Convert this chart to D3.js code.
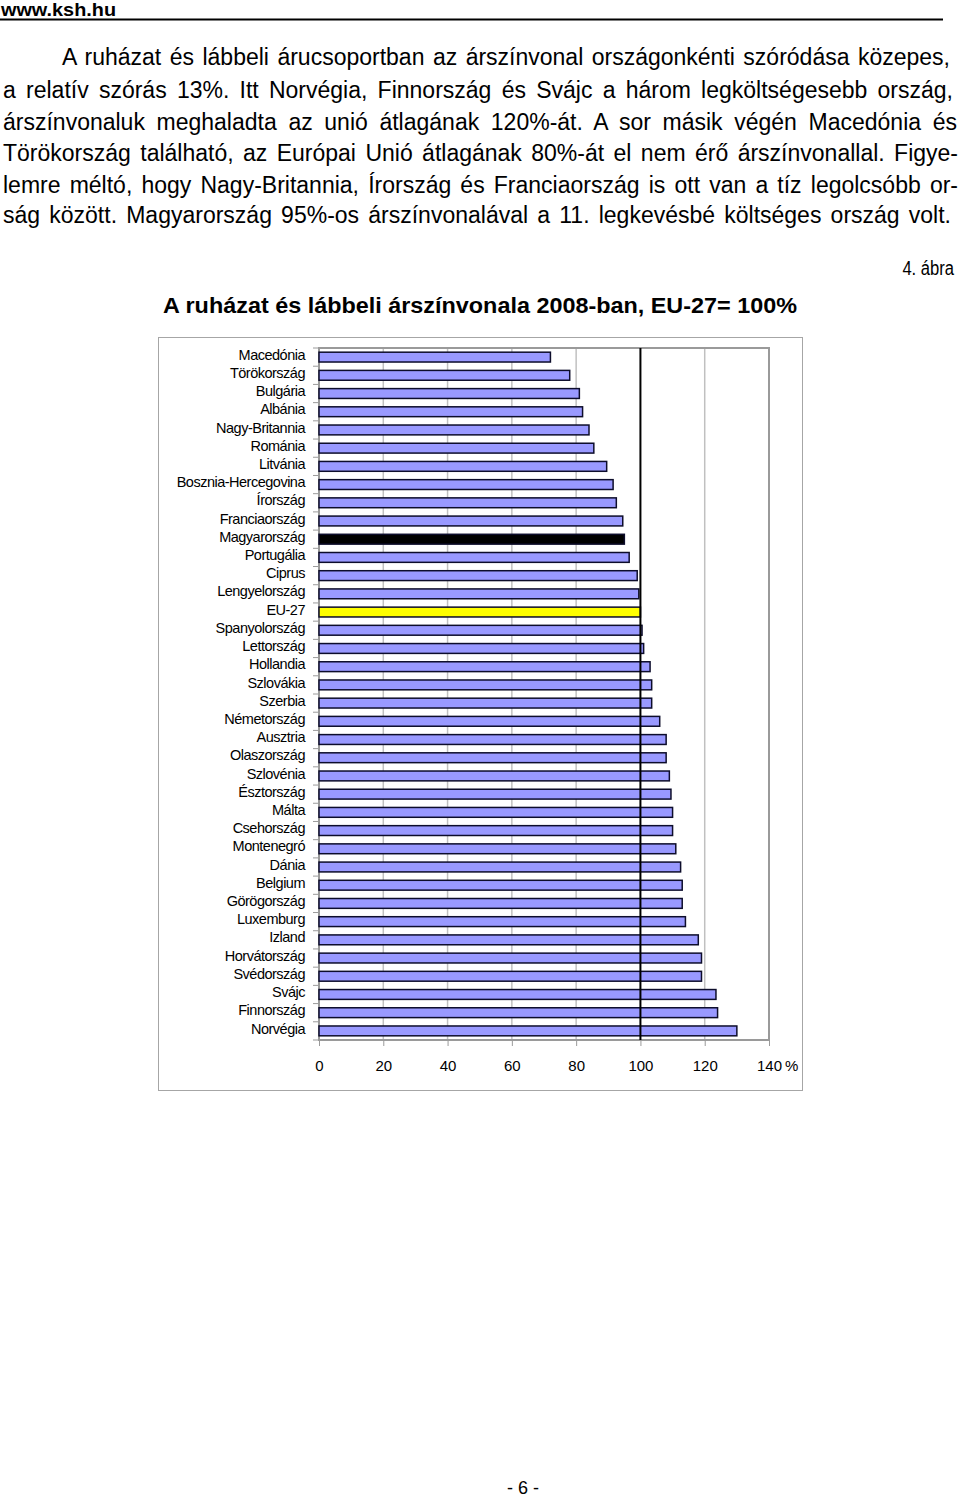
<!DOCTYPE html>
<html>
<head>
<meta charset="utf-8">
<script src="https://cdn.jsdelivr.net/npm/d3@7/dist/d3.min.js"></script>
<style>
  html, body { margin: 0; padding: 0; background: #fff; }
  svg { display: block; }
</style>
</head>
<body>
<script>
const categories = ["Macedónia","Törökország","Bulgária","Albánia","Nagy-Britannia","Románia","Litvánia","Bosznia-Hercegovina","Írország","Franciaország","Magyarország","Portugália","Ciprus","Lengyelország","EU-27","Spanyolország","Lettország","Hollandia","Szlovákia","Szerbia","Németország","Ausztria","Olaszország","Szlovénia","Észtország","Málta","Csehország","Montenegró","Dánia","Belgium","Görögország","Luxemburg","Izland","Horvátország","Svédország","Svájc","Finnország","Norvégia"];
const values = [72, 78, 81, 82, 84, 85.5, 89.5, 91.5, 92.5, 94.5, 95, 96.5, 99, 99.5, 100, 100.5, 101, 103, 103.5, 103.5, 106, 108, 108, 109, 109.5, 110, 110, 111, 112.5, 113, 113, 114, 118, 119, 119, 123.5, 124, 130];
const xTicks = [0, 20, 40, 60, 80, 100, 120, 140];
const paragraphLines = [
  "A ruházat és lábbeli árucsoportban az árszínvonal országonkénti szóródása közepes,",
  "a relatív szórás 13%. Itt Norvégia, Finnország és Svájc a három legköltségesebb ország,",
  "árszínvonaluk meghaladta az unió átlagának 120%-át. A sor másik végén Macedónia és",
  "Törökország található, az Európai Unió átlagának 80%-át el nem érő árszínvonallal. Figye-",
  "lemre méltó, hogy Nagy-Britannia, Írország és Franciaország is ott van a tíz legolcsóbb or-",
  "ság között. Magyarország 95%-os árszínvonalával a 11. legkevésbé költséges ország volt."
];
const siteText = "www.ksh.hu";
const figureLabel = "4. ábra";
const chartTitle = "A ruházat és lábbeli árszínvonala 2008-ban, EU-27= 100%";
const pageNumber = "- 6 -";

const W = 960, H = 1500;
const svg = d3.select("body").append("svg").attr("width", W).attr("height", H);
svg.append("rect").attr("width", W).attr("height", H).attr("fill", "#fff");

const FONT = "'Liberation Sans', Arial, sans-serif";
const NARROW = "'Liberation Sans Narrow', 'Liberation Sans', Arial, sans-serif";

// header
svg.append("text").attr("x", 1).attr("y", 16).attr("font-family", FONT).attr("font-weight", "bold")
  .attr("font-size", 18).attr("textLength", 115).attr("lengthAdjust", "spacingAndGlyphs")
  .attr("fill", "#000").text(siteText);
svg.append("line").attr("x1", 0).attr("x2", 943).attr("y1", 19.5).attr("y2", 19.5)
  .attr("stroke", "#000").attr("stroke-width", 2);

// paragraph: font size fitted so last line is natural width, other lines justified by word spacing
const pStarts = [62, 3, 3, 3, 3, 3];
const pEnds = [950, 953, 957, 958, 958, 951];
const pBase = [65, 97.6, 130.3, 161.2, 193.1, 223];
const probe = svg.append("text").attr("font-family", FONT).attr("font-size", 21).text(paragraphLines[5]);
const natural = probe.node().getComputedTextLength();
probe.remove();
let pSize = 21 * (pEnds[5] - pStarts[5]) / natural;
pSize = Math.max(19, Math.min(23, pSize));
paragraphLines.forEach((t, i) => {
  const tx = svg.append("text").attr("x", pStarts[i]).attr("y", pBase[i])
    .attr("font-family", FONT).attr("font-size", pSize).attr("fill", "#000").text(t);
  const w = tx.node().getComputedTextLength();
  const spaces = (t.match(/ /g) || []).length;
  const target = pEnds[i] - pStarts[i];
  if (spaces > 0) {
    const ws = (target - w) / spaces;
    tx.attr("word-spacing", ws + "px");
    if (Math.abs(ws) > 12) tx.attr("word-spacing", null).attr("textLength", target).attr("lengthAdjust", "spacing");
  }
});

// figure label (horizontally condensed via transform) and title
svg.append("g").attr("transform", "translate(954,275) scale(0.79,1)")
  .append("text").attr("x", 0).attr("y", 0).attr("text-anchor", "end")
  .attr("font-family", NARROW).attr("font-size", 21).text(figureLabel);
svg.append("text").attr("x", 163).attr("y", 313).attr("font-family", NARROW).attr("font-weight", "bold")
  .attr("font-size", 22).attr("textLength", 634).attr("lengthAdjust", "spacingAndGlyphs").text(chartTitle);

// chart box
svg.append("rect").attr("x", 158.5).attr("y", 337.5).attr("width", 644).attr("height", 753)
  .attr("fill", "none").attr("stroke", "#a6a6a6").attr("stroke-width", 1);

const plot = { left: 319, right: 769, top: 348, bottom: 1040 };
const x = d3.scaleLinear().domain([0, 140]).range([plot.left, plot.right]);
const pad = 0.46;
const y = d3.scaleBand().domain(categories).range([plot.top, plot.bottom])
  .paddingInner(pad).paddingOuter(pad / 2);

const g = svg.append("g");

// gridlines (grey)
g.selectAll("line.grid").data(xTicks.filter(d => d !== 0 && d !== 100 && d !== 140)).enter()
  .append("line").attr("class", "grid")
  .attr("x1", d => x(d)).attr("x2", d => x(d))
  .attr("y1", plot.top).attr("y2", plot.bottom)
  .attr("stroke", "#c0c0c0").attr("stroke-width", 1.5);

// plot frame
g.append("rect").attr("x", plot.left).attr("y", plot.top)
  .attr("width", plot.right - plot.left).attr("height", plot.bottom - plot.top)
  .attr("fill", "none").attr("stroke", "#9a9a9a").attr("stroke-width", 2);

// bars
const fillFor = c => c === "Magyarország" ? "#000000" : (c === "EU-27" ? "#ffff00" : "#9999ff");
g.selectAll("rect.bar").data(categories).enter().append("rect").attr("class", "bar")
  .attr("x", x(0)).attr("y", d => y(d))
  .attr("width", (d, i) => x(values[i]) - x(0))
  .attr("height", y.bandwidth())
  .attr("fill", d => fillFor(d))
  .attr("stroke", "#0d0d2b").attr("stroke-width", 1.5);

// 100% reference line
g.append("line").attr("x1", x(100)).attr("x2", x(100)).attr("y1", plot.top).attr("y2", plot.bottom)
  .attr("stroke", "#000").attr("stroke-width", 2);

// y boundary ticks
const step = y.step();
const bounds = categories.map(c => y(c) - step * pad / 2).concat([plot.bottom]);
g.selectAll("line.ytick").data(bounds).enter().append("line").attr("class", "ytick")
  .attr("x1", plot.left - 6).attr("x2", plot.left)
  .attr("y1", d => d).attr("y2", d => d)
  .attr("stroke", "#9a9a9a").attr("stroke-width", 1);

// y labels via axis
const yAxis = d3.axisLeft(y).tickSize(0).tickPadding(14);
const yg = svg.append("g").attr("transform", `translate(${plot.left},-2)`).call(yAxis);
yg.select(".domain").remove();
yg.selectAll("text").attr("font-family", FONT).attr("font-size", 14.5)
  .attr("letter-spacing", "-0.5px").attr("fill", "#000");

// x axis
const xAxis = d3.axisBottom(x).tickValues(xTicks).tickSize(6).tickPadding(14).tickFormat(d3.format("d"));
const xg = svg.append("g").attr("transform", `translate(0,${plot.bottom})`).call(xAxis);
xg.select(".domain").remove();
xg.selectAll(".tick line").attr("stroke", "#9a9a9a");
xg.selectAll("text").attr("font-family", NARROW).attr("font-size", 15).attr("fill", "#000");
svg.append("text").attr("x", x(140) + 16).attr("y", plot.bottom + 20).attr("dy", "0.71em")
  .attr("font-family", NARROW).attr("font-size", 15).text("%");

// page number
svg.append("text").attr("x", 523).attr("y", 1494).attr("text-anchor", "middle")
  .attr("font-family", FONT).attr("font-size", 18).text(pageNumber);
</script>
</body>
</html>
